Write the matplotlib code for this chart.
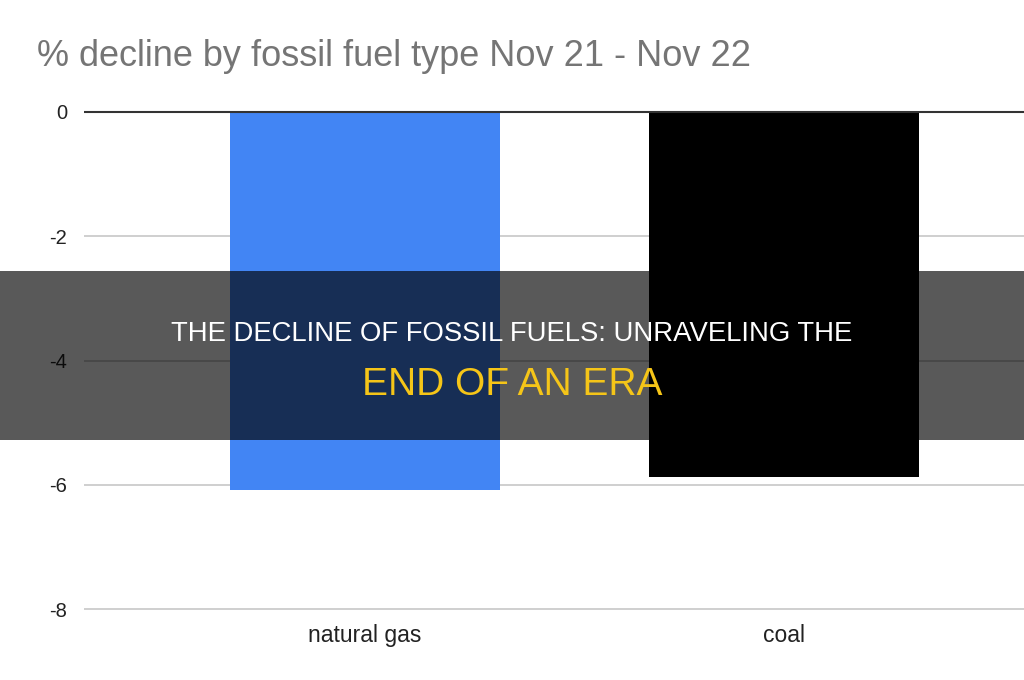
import matplotlib.pyplot as plt
from matplotlib.patches import Rectangle

plt.rcParams['font.family'] = ['Liberation Sans', 'DejaVu Sans']

categories = ['natural gas', 'coal']
values = [-6.08, -5.87]
colors = ['#4285F4', '#000000']
yticks = [0, -2, -4, -6, -8]

TITLE = '% decline by fossil fuel type Nov 21 - Nov 22'
BANNER_1 = 'THE DECLINE OF FOSSIL FUELS: UNRAVELING THE'
BANNER_2 = 'END OF AN ERA'

W, H = 1024, 680
fig = plt.figure(figsize=(W / 100, H / 100), dpi=100)

# axes box in pixels: x 84..1024, y 108..613
ax = fig.add_axes([84 / W, (H - 613) / H, (W - 84) / W, (613 - 108) / H])
x = list(range(len(categories)))
ax.bar(x, values, width=0.644, color=colors, zorder=3)

ax.set_xlim(-0.671, 1.573)
ax.set_ylim(-8.064, 0.064)
ax.set_yticks(yticks)
ax.set_yticklabels([str(t) for t in yticks], fontsize=14.5, color='#222222')
ax.set_xticks(x)
ax.set_xticklabels(categories, fontsize=16.5, color='#222222')
ax.tick_params(length=0)
ax.tick_params(axis='y', pad=12)
ax.tick_params(axis='x', pad=8)

for t in yticks:
    if t == 0:
        ax.axhline(t, color='#333333', lw=1.5, zorder=4)
    else:
        ax.axhline(t, color='#cccccc', lw=1.3, zorder=1)

for s in ax.spines.values():
    s.set_visible(False)

fig.text(37 / W, 1 - 57 / H, TITLE, fontsize=26, color='#757575',
         ha='left', va='center')

# dark banner over the chart
fig.patches.append(Rectangle((0, (H - 440) / H), 1, (440 - 271) / H,
                             transform=fig.transFigure, facecolor='black',
                             edgecolor='none', linewidth=0,
                             alpha=0.65, zorder=10))
fig.text(0.5, 1 - 334 / H, BANNER_1, fontsize=19.8, color='white',
         ha='center', va='center', zorder=11)
fig.text(0.5, 1 - 385 / H, BANNER_2, fontsize=28, color='#F5C518',
         ha='center', va='center', zorder=11)

fig.savefig('out.png', dpi=100)
